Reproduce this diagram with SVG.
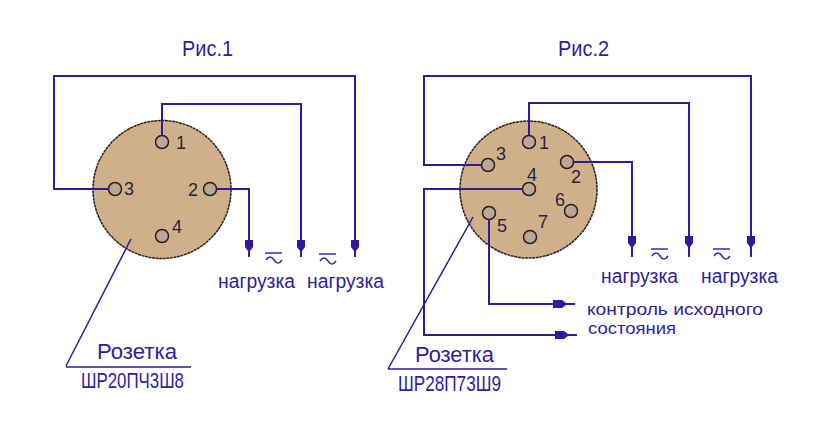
<svg xmlns="http://www.w3.org/2000/svg" width="819" height="441" viewBox="0 0 819 441">
<style>
text{font-family:"Liberation Sans",Arial,sans-serif;fill:#2f1d9c}
.t{font-size:22px}
.n{font-size:18px;fill:#2a2340}
.l{font-size:20px}
.c{font-size:16.500px}
.body{fill:#cfb08b;stroke:#2a1f1a;stroke-width:1.5;stroke-dasharray:3 .6}
.pin{fill:#b9a695;stroke:#2a1f1a;stroke-width:1.5}
.w{fill:none;stroke:#34189c;stroke-width:2}
.th{fill:none;stroke:#34189c;stroke-width:1.5}
.til{fill:none;stroke:#3a28a8;stroke-width:1.5}
</style>
<defs>
<g id="ad"><path d="M-4 -9H4V-2L1 2H-1L-4 -2Z" fill="#34189c"/></g>
<g id="ar"><path d="M-10 -4H-1L3 -1V1L-1 4H-10Z" fill="#34189c"/></g>
<g id="tilde"><path d="M0 0H17" class="til"/><path d="M1 7Q5 1 9 7T17 7" class="til"/></g>
</defs>
<g id="socket1">
<circle class="body" cx="162" cy="189.5" r="69"/>
<g id="s1p1"><circle class="pin" cx="162" cy="142" r="6.500"/><text class="n" x="176" y="149">1</text></g>
<g id="s1p2"><circle class="pin" cx="210" cy="189" r="6.500"/><text class="n" x="188" y="196">2</text></g>
<g id="s1p3"><circle class="pin" cx="115" cy="189" r="6.500"/><text class="n" x="124" y="195">3</text></g>
<g id="s1p4"><circle class="pin" cx="162" cy="236" r="6.500"/><text class="n" x="172" y="233">4</text></g>
</g>
<g id="socket2">
<circle class="body" cx="528.500" cy="189.500" r="68.500"/>
<g id="s2p1"><circle class="pin" cx="529" cy="142" r="6.500"/><text class="n" x="539" y="149">1</text></g>
<g id="s2p2"><circle class="pin" cx="567" cy="162" r="6.500"/><text class="n" x="571" y="183">2</text></g>
<g id="s2p3"><circle class="pin" cx="488" cy="165" r="6.500"/><text class="n" x="496" y="160">3</text></g>
<g id="s2p4"><circle class="pin" cx="529" cy="189" r="6.500"/><text class="n" x="527" y="181">4</text></g>
<g id="s2p5"><circle class="pin" cx="489" cy="213" r="6.500"/><text class="n" x="497" y="232">5</text></g>
<g id="s2p6"><circle class="pin" cx="571" cy="211" r="6.500"/><text class="n" x="555" y="206">6</text></g>
<g id="s2p7"><circle class="pin" cx="530" cy="237" r="6.500"/><text class="n" x="538" y="228">7</text></g>
</g>
<g id="connectors">
<path class="w" d="M108.500 189H54V76H355V257"/>
<path class="w" d="M162 135.500V104H301V257"/>
<path class="w" d="M216.500 189H249V257"/>
<path class="th" d="M131 239L66 366M66 367H191"/>
<path class="w" d="M481.500 165H424V76H751V257"/>
<path class="w" d="M529 135.500V103H689V257"/>
<path class="w" d="M573.500 162H632V257"/>
<path class="w" d="M522.500 189H424V335H577"/>
<path class="w" d="M489 219.500V304H575"/>
<path class="th" d="M473 217L388 369M388 369H507"/>
<use href="#ad" x="249" y="249"/><use href="#ad" x="301" y="249"/><use href="#ad" x="355" y="249"/>
<use href="#ad" x="632" y="245"/><use href="#ad" x="689" y="245"/><use href="#ad" x="751" y="245"/>
<use href="#ar" x="563" y="304"/><use href="#ar" x="565" y="335"/>
<use href="#tilde" x="265" y="253"/><use href="#tilde" x="319" y="254"/>
<use href="#tilde" x="651" y="249"/><use href="#tilde" x="713" y="249"/>
</g>
<g id="labels">
<text class="t" x="182" y="56" textLength="51" lengthAdjust="spacingAndGlyphs">Рис.1</text>
<text class="t" x="558" y="56" textLength="51" lengthAdjust="spacingAndGlyphs">Рис.2</text>
<text class="l" x="218" y="288" textLength="77" lengthAdjust="spacingAndGlyphs">нагрузка</text>
<text class="l" x="307" y="288" textLength="77" lengthAdjust="spacingAndGlyphs">нагрузка</text>
<text class="l" x="601" y="283" textLength="77" lengthAdjust="spacingAndGlyphs">нагрузка</text>
<text class="l" x="701" y="283" textLength="77" lengthAdjust="spacingAndGlyphs">нагрузка</text>
<text class="c" x="587" y="315" textLength="176" lengthAdjust="spacingAndGlyphs">контроль исходного</text>
<text class="c" x="588" y="334" textLength="88" lengthAdjust="spacingAndGlyphs">состояния</text>
<text class="t" x="97" y="359" textLength="80" lengthAdjust="spacingAndGlyphs">Розетка</text>
<text class="t" x="81" y="388" textLength="103" lengthAdjust="spacingAndGlyphs">ШР20ПЧ3Ш8</text>
<text class="t" x="415" y="362" textLength="79" lengthAdjust="spacingAndGlyphs">Розетка</text>
<text class="t" x="398" y="391" textLength="103" lengthAdjust="spacingAndGlyphs">ШР28П73Ш9</text>
</g>
</svg>
